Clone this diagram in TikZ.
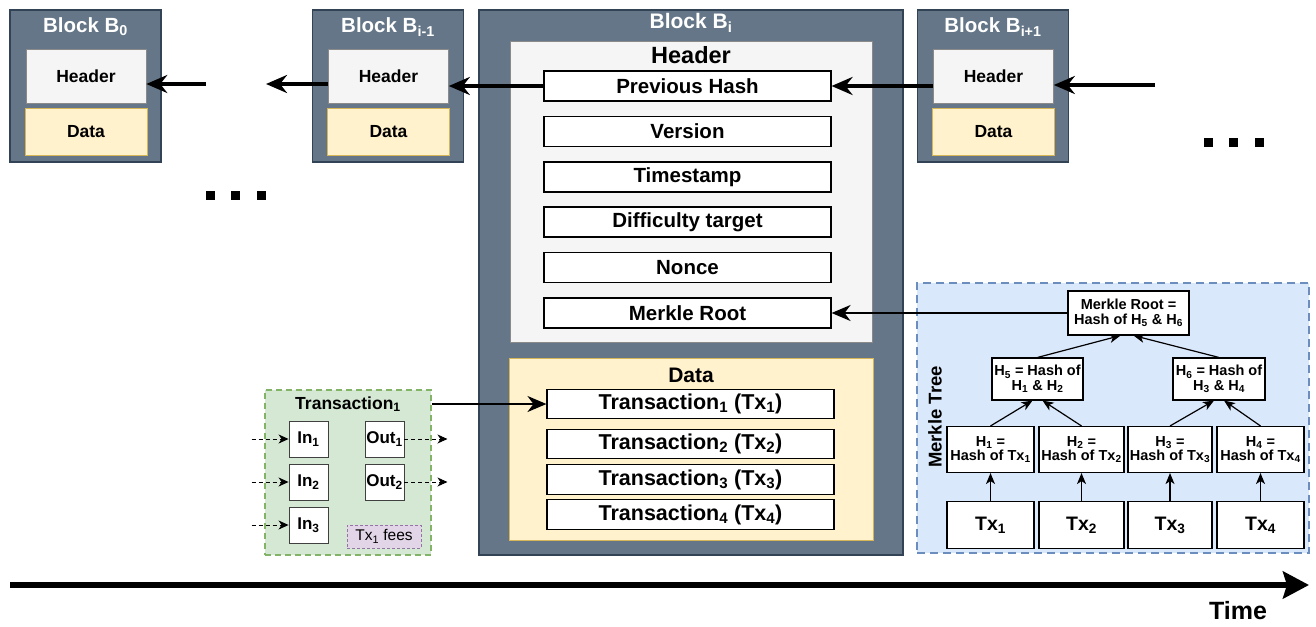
\documentclass[tikz,border=0pt]{standalone}
\usepackage{fontspec}
\setmainfont{Liberation Sans}
\usetikzlibrary{arrows.meta}

\definecolor{blockfill}{HTML}{647687}
\definecolor{blockline}{HTML}{314354}
\definecolor{hdrfill}{HTML}{F5F5F5}
\definecolor{hdrline}{HTML}{8A8A8A}
\definecolor{datafill}{HTML}{FFF2CC}
\definecolor{dataline}{HTML}{D6B656}
\definecolor{txfill}{HTML}{D5E8D4}
\definecolor{txline}{HTML}{82B366}
\definecolor{feesfill}{HTML}{E1D5E7}
\definecolor{feesline}{HTML}{9673A6}
\definecolor{mfill}{HTML}{DAE8FC}
\definecolor{mline}{HTML}{6C8EBF}

\newcommand\fsz[1]{\fontsize{#1}{#1}\selectfont\bfseries}

\begin{document}
\begin{tikzpicture}[x=1pt,y=-1pt,
  blk/.style={draw=blockline,fill=blockfill,line width=1.2pt,inner sep=0pt},
  blktitle/.style={text=white,font=\fsz{20.5},inner sep=0pt},
  hdrbox/.style={draw=hdrline,fill=hdrfill,line width=0.6pt,inner sep=0pt,font=\fsz{17.5}},
  datbox/.style={draw=dataline,fill=datafill,line width=1pt,inner sep=0pt,font=\fsz{17.5}},
  field/.style={draw,fill=white,line width=1.1pt,inner sep=0pt,minimum width=287pt,minimum height=30pt,font=\fsz{20.5}},
  txpanel/.style={draw=txline,fill=txfill,line width=1.6pt,dash pattern=on 6pt off 4pt,inner sep=0pt},
  iobox/.style={draw=black!75,fill=white,line width=0.9pt,inner sep=0pt,minimum width=39pt,minimum height=36pt,font=\fsz{17}},
  fees/.style={draw=feesline,fill=feesfill,line width=0.8pt,dash pattern=on 3pt off 2pt,inner sep=0pt,minimum width=74pt,minimum height=23pt,font=\fontsize{15.5}{15.5}\selectfont},
  mpanel/.style={draw=mline,fill=mfill,line width=1.6pt,dash pattern=on 8pt off 5pt,inner sep=0pt},
  mnode/.style={draw,fill=white,line width=1.1pt,inner sep=0pt,align=center,font=\fsz{14.5}},
  leaf/.style={draw,fill=white,line width=1.1pt,inner sep=0pt,minimum height=47pt,font=\fsz{19.5}},
  chain/.style={line width=3.5pt,-{Stealth[length=21pt,width=18pt,inset=7pt]}},
  link/.style={line width=2.2pt,-{Stealth[length=19pt,width=16pt,inset=6pt]}},
  tree/.style={line width=1.2pt,-{Stealth[length=11pt,width=9pt,inset=3pt]}},
  io/.style={line width=0.9pt,dash pattern=on 4pt off 3pt,-{Stealth[length=10pt,width=9pt,inset=3pt]}},
  timearr/.style={line width=6pt,-{Stealth[length=26pt,width=27pt,inset=4pt]}}]
\useasboundingbox (0,0) rectangle (1316,626);

% small blocks of the chain
\foreach \cx/\nm/\idx in {85.5/b0/0, 388/bprev/i-1, 993/bnext/i+1}{
  \node[blk,minimum width=151pt,minimum height=152pt] (\nm) at (\cx,86) {};
  \node[blktitle] (\nm-t) at (\cx,27) {Block B\textsubscript{\idx}};
  \node[hdrbox,minimum width=120pt,minimum height=54pt] (\nm-hd) at (\cx+0.5,76) {Header};
  \node[datbox,minimum width=122pt,minimum height=47pt] (\nm-dt) at (\cx+0.5,131.5) {Data};
}

% block B_i
\node[blk,minimum width=424pt,minimum height=545pt] (bi) at (691,282.5) {};
\node[blktitle,font=\fsz{21}] (bi-t) at (691,23) {Block B\textsubscript{i}};
\node[hdrbox,minimum width=362pt,minimum height=301pt] (bi-hd) at (691,191.5) {};
\node[font=\fsz{23.5},inner sep=0pt] (bi-hdt) at (691,55) {Header};
\foreach \y/\nm/\txt in {86/prevhash/Previous Hash, 131.5/version/Version, 177/tstamp/Timestamp,
    222/difftgt/Difficulty target, 267.5/nonce/Nonce, 313/mroot/Merkle Root}
  \node[field] (\nm) at (687.5,\y) {\txt};
\node[datbox,minimum width=364pt,minimum height=182pt] (bi-dt) at (691,449) {};
\node[font=\fsz{21},inner sep=0pt] (bi-dtt) at (691,375) {Data};
\foreach \y/\i in {404/1, 444/2, 479.5/3, 514.5/4}
  \node[field,minimum height=29.5pt,font=\fsz{21.5}] (tx\i) at (690.5,\y) {Transaction\textsubscript{\i} (Tx\textsubscript{\i})};

% transaction 1
\node[txpanel,minimum width=166pt,minimum height=165pt] (txp) at (348,472.5) {};
\node[font=\fsz{17.5},inner sep=0pt] (txp-t) at (348,404) {Transaction\textsubscript{1}};
\foreach \y/\i in {439/1, 482/2, 525/3}{
  \node[iobox] (in\i) at (308.5,\y) {In\textsubscript{\i}};
  \coordinate (src\i) at ([xshift=-37pt]in\i.west);
  \draw[io] (src\i) -- (in\i);
}
\foreach \y/\i in {439/1, 482/2}{
  \node[iobox] (out\i) at (384.5,\y) {Out\textsubscript{\i}};
  \coordinate (dst\i) at ([xshift=43pt]out\i.east);
  \draw[io] (out\i) -- (dst\i);
}
\node[fees] (fees) at (384,536.5) {Tx\textsubscript{1} fees};

% merkle tree
\node[mpanel,minimum width=392pt,minimum height=270pt] (mt) at (1113,418) {};
\node[rotate=90,font=\fsz{18.5},inner sep=0pt] (mt-t) at (935,417) {Merkle Tree};
\node[mnode,minimum width=121pt,minimum height=44pt] (mr) at (1128.5,313) {Merkle Root =\\Hash of H\textsubscript{5} \& H\textsubscript{6}};
\node[mnode,minimum width=91pt,minimum height=42pt] (h5) at (1037.5,379) {H\textsubscript{5} = Hash of\\H\textsubscript{1} \& H\textsubscript{2}};
\node[mnode,minimum width=92pt,minimum height=42pt] (h6) at (1219,379) {H\textsubscript{6} = Hash of\\H\textsubscript{3} \& H\textsubscript{4}};
\foreach \cx/\w/\i in {990.5/87/1, 1081.5/85/2, 1170/84/3, 1260.5/87/4}{
  \node[mnode,minimum width=\w pt,minimum height=46pt] (h\i) at (\cx,449.5) {H\textsubscript{\i} =\\Hash of Tx\textsubscript{\i}};
  \node[leaf,minimum width=\w pt] (leaf\i) at (\cx,525) {Tx\textsubscript{\i}};
  \draw[tree] (leaf\i) -- (h\i);
}
\draw[tree] (h1.north) -- ([xshift=-5pt]h5.south);
\draw[tree] (h2.north) -- ([xshift=5pt]h5.south);
\draw[tree] (h3.north) -- ([xshift=-5pt]h6.south);
\draw[tree] (h4.north) -- ([xshift=5pt]h6.south);
\draw[tree] (h5.north) -- ([xshift=-8pt]mr.south);
\draw[tree] (h6.north) -- ([xshift=5pt]mr.south);

% links between blocks
\coordinate (nextin) at (1155,85);
\coordinate (gapr) at (266,84);
\coordinate (gapl) at (206,84);
\draw[chain] (nextin) -- (bnext-hd.east |- nextin);
\draw[chain] (bnext-hd.west |- prevhash) -- (prevhash.east);
\draw[chain] (prevhash.west) -- (bprev-hd.east |- prevhash);
\draw[chain] (bprev-hd.west |- gapr) -- (gapr);
\draw[chain] (gapl) -- (b0-hd.east |- gapl);
\draw[link] (mr.west) -- (mroot.east);
\draw[link] (txp.east |- tx1) -- (tx1.west);

% dots
\foreach \x in {210,235.5,261} \fill (\x-4.5,191) rectangle ++(9,9);
\foreach \x in {1208.5,1233,1259} \fill (\x-4.5,138) rectangle ++(9,9);

% time axis
\coordinate (t0) at (10,585);
\coordinate (t1) at (1309,585);
\draw[timearr] (t0) -- (t1);
\node[font=\fsz{25},inner sep=0pt] (time) at (1238,611) {Time};
\end{tikzpicture}
\end{document}
